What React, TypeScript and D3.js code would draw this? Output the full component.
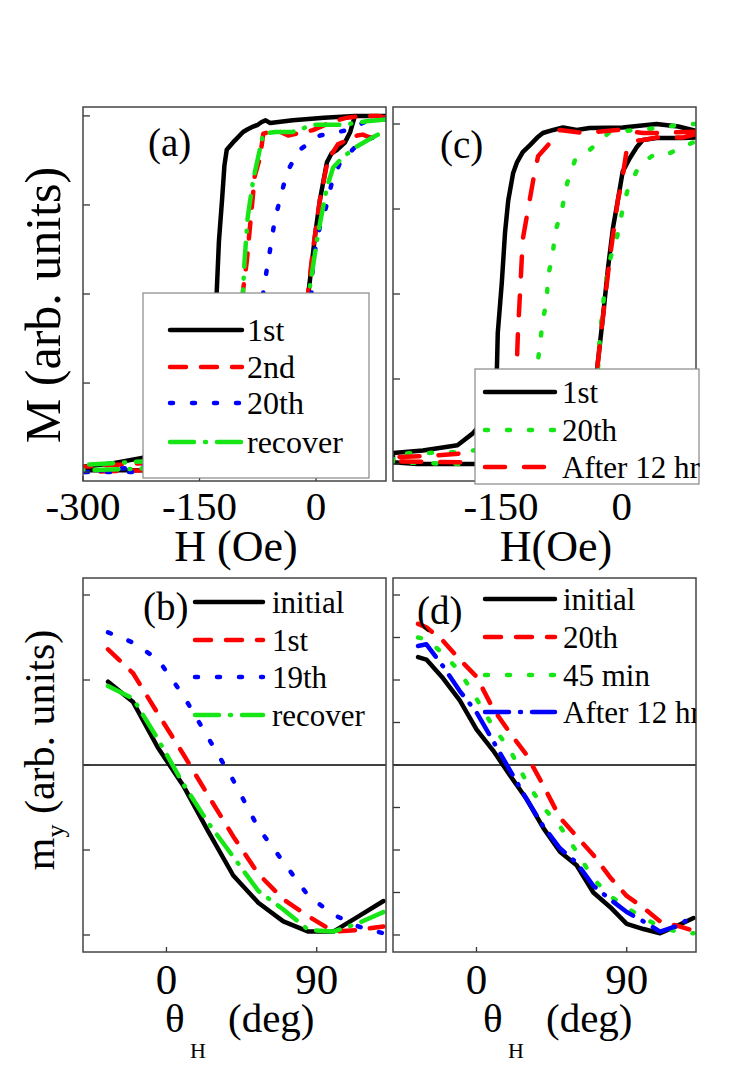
import * as React from 'react';
import * as d3 from 'd3';

// panel (a): hysteresis loops, H in Oe, M normalised (down branch, then up branch)
const aFirstH = [90, 50, 10, -30, -59, -65, -70, -75, -81, -88, -94, -105, -115, -118, -121, -125, -128, -130, -132, -137, -150, -224, -261, -300,
    -300, -224, -150, -80, -30, -18, -13, -10, -1, 5, 14, 20, 27, 37, 44, 50, 90];
const aFirstM = [1.0, 1.0, 0.99, 0.975, 0.96, 0.975, 0.966, 0.95, 0.94, 0.925, 0.91, 0.86, 0.81, 0.72, 0.53, 0.3, 0.0, -0.4, -0.75, -0.88, -0.91, -0.92, -0.95, -0.97,
    -0.99, -0.99, -0.97, -0.94, -0.88, -0.75, -0.4, 0.0, 0.34, 0.53, 0.74, 0.79, 0.81, 0.85, 0.91, 1.0, 1.0];
const aSecondH = [90, 80, 60, 40, 22, -4, -36, -46, -60, -68, -72, -79, -85, -89, -94, -97, -100, -108, -150, -224, -300,
    -300, -224, -150, -80, -30, -18, -13, -10, -4, 5, 15, 28, 53, 60, 69, 82, 90];
const aSecondM = [0.99, 1.0, 1.0, 0.99, 0.97, 0.92, 0.89, 0.91, 0.91, 0.9, 0.77, 0.66, 0.38, 0.19, 0.02, -0.4, -0.75, -0.88, -0.93, -0.95, -0.97,
    -1.0, -0.99, -0.97, -0.94, -0.88, -0.7, -0.3, 0.02, 0.25, 0.53, 0.75, 0.84, 0.89, 0.895, 0.88, 0.87, 0.86];
const aTwentiethH = [90, 65, 40, 5, -21, -37, -46, -53, -58, -63, -68, -72, -76, -85, -150, -224, -300,
    -300, -224, -150, -60, -20, -12, -8, -4, 5, 11, 20, 31, 56, 86, 90];
const aTwentiethM = [0.98, 0.97, 0.92, 0.89, 0.81, 0.69, 0.54, 0.42, 0.28, 0.15, 0.01, -0.4, -0.75, -0.88, -0.94, -0.97, -1.0,
    -1.0, -1.0, -0.98, -0.95, -0.88, -0.6, -0.2, 0.19, 0.38, 0.455, 0.62, 0.74, 0.85, 0.9, 0.9];
const aRecoverH = [90, 65, 35, -4, -30, -53, -68, -81, -88, -92, -94, -97, -100, -108, -150, -224, -300,
    -300, -224, -150, -80, -30, -17, -12, -8, 2.5, 14, 22, 35, 53, 73, 86, 90];
const aRecoverM = [0.98, 0.97, 0.95, 0.95, 0.91, 0.91, 0.9, 0.64, 0.43, 0.19, 0.02, -0.4, -0.75, -0.88, -0.92, -0.94, -0.96,
    -0.99, -0.98, -0.96, -0.93, -0.87, -0.6, -0.2, 0.04, 0.34, 0.6, 0.71, 0.77, 0.83, 0.88, 0.91, 0.92];

// panel (c)
const cFirstH = [92, 70, 43, 1, -40, -56, -73, -85, -98, -105, -114, -123, -130, -135, -141, -145, -149, -154, -155, -159, -167, -185, -204, -247, -284,
    -284, -254, -176, -77, -45, -35, -30, -23.5, -17, -11, -5, 1, 10, 18.6, 26, 43, 75, 92];
const cFirstM = [0.96, 0.985, 1.0, 0.98, 0.976, 0.965, 0.98, 0.965, 0.947, 0.92, 0.876, 0.835, 0.776, 0.71, 0.55, 0.36, 0.065, -0.23, -0.43, -0.6, -0.72, -0.82, -0.89, -0.92, -0.935,
    -0.99, -1.0, -1.0, -0.99, -0.96, -0.8, -0.41, -0.135, 0.16, 0.39, 0.55, 0.72, 0.8, 0.865, 0.906, 0.918, 0.918, 0.92];
const cTwentiethH = [92, 78, 51, 18.6, -15, -40, -58, -68, -74, -83, -86, -92, -93, -98, -102, -105, -110, -120, -150, -200, -284,
    -284, -200, -100, -45, -33, -27, -21, -15, -6, 0, 7, 19, 31, 43, 60, 76, 92];
const cTwentiethM = [1.0, 1.0, 0.98, 0.965, 0.953, 0.847, 0.79, 0.65, 0.506, 0.36, 0.22, 0.1, -0.035, -0.15, -0.31, -0.43, -0.65, -0.8, -0.9, -0.93, -0.94,
    -0.99, -1.0, -0.98, -0.95, -0.7, -0.23, 0.04, 0.2, 0.335, 0.476, 0.61, 0.73, 0.79, 0.83, 0.83, 0.865, 0.9];
const cAfterH = [92, 43, 26, -6, -48, -77, -85, -89, -104, -110, -116, -123, -126, -129, -131, -137, -150, -180, -230, -284,
    -284, -200, -100, -50, -35, -30, -23.5, -15, -5, 1, 6, 15, 26, 43, 75, 92];
const cAfterM = [0.955, 0.947, 0.947, 0.965, 0.947, 0.965, 0.935, 0.89, 0.81, 0.67, 0.51, 0.32, 0.04, -0.23, -0.5, -0.75, -0.88, -0.93, -0.95, -0.96,
    -0.985, -0.99, -0.98, -0.95, -0.8, -0.41, -0.135, 0.21, 0.55, 0.69, 0.85, 0.9, 0.906, 0.92, 0.92, 0.94];

// panel (b): m_y vs field angle
const bTheta = [-35, -20, -5, 10, 25, 40, 55, 70, 85, 100, 115, 130];
const bInitial = [0.49, 0.37, 0.1, -0.12, -0.39, -0.65, -0.81, -0.92, -0.98, -0.98, -0.89, -0.8];
const bFirst = [0.68, 0.54, 0.3, 0.065, -0.18, -0.42, -0.64, -0.79, -0.89, -0.98, -0.97, -0.95];
const bNineteenth = [0.78, 0.72, 0.62, 0.41, 0.16, -0.09, -0.37, -0.57, -0.77, -0.88, -0.95, -0.99];
const bRecover = [0.465, 0.39, 0.15, -0.11, -0.34, -0.54, -0.74, -0.85, -0.97, -0.98, -0.93, -0.865];

// panel (d)
const dTheta = [-35, -30, -20, -10, 0, 10, 20, 30, 40, 50, 60, 70, 80, 90, 100, 110, 120, 130];
const dInitial = [0.635, 0.62, 0.51, 0.38, 0.21, 0.085, -0.06, -0.2, -0.37, -0.51, -0.59, -0.75, -0.835, -0.935, -0.965, -0.99, -0.947, -0.9];
const dTwentieth = [0.83, 0.81, 0.73, 0.62, 0.52, 0.33, 0.19, 0.06, -0.12, -0.31, -0.42, -0.53, -0.66, -0.77, -0.84, -0.92, -0.945, -0.975];
const dMin45 = [0.75, 0.74, 0.655, 0.55, 0.39, 0.225, 0.09, -0.1, -0.25, -0.36, -0.51, -0.67, -0.77, -0.84, -0.9, -0.95, -0.98, -0.99];
const dAfter = [0.7, 0.71, 0.58, 0.435, 0.31, 0.14, -0.03, -0.2, -0.36, -0.49, -0.575, -0.71, -0.79, -0.865, -0.92, -0.98, -0.947, -0.89];

const hTicksA = [-300, -150, 0];
const hTicksC = [-150, 0];
const thetaTicks = [0, 90];
const mTicks = [-1, -0.5, 0, 0.5, 1];
const myTicksD = [-1, -0.75, -0.5, -0.25, 0, 0.25, 0.5, 0.75, 1];

const FONT = "'Liberation Serif', 'Times New Roman', 'Nimbus Roman', 'DejaVu Serif', serif";
const RED = '#ff0000';
const BLUE = '#0000ff';
const GREEN = '#16e616';

// line looks
const SOLID = { color: '#000', dash: null as string | null };
const DASH_RED = { color: RED, dash: '16,15' };
const DOT_BLUE = { color: BLUE, dash: '3,19' };
const DASHDOT_GREEN = { color: GREEN, dash: '24,11,1,11' };
const DOT_GREEN = { color: GREEN, dash: '3,19' };
const DASH_RED_LONG = { color: RED, dash: '20,19' };
const DASHDOT_BLUE = { color: BLUE, dash: '24,11,1,11' };

interface Series { name: string; xs: number[]; ys: number[]; look: { color: string; dash: string | null } }
interface Frame { x0: number; x1: number; y0: number; y1: number }
interface LegendCfg {
    box?: { x0: number; y0: number; x1: number; y1: number };
    lx0: number; lx1: number; tx: number; ys: number[]; size: number; clip?: boolean;
}

function Panel(props: {
    id: string; frame: Frame; xDomain: [number, number]; yDomain: [number, number];
    xTicks: number[]; yTicks: number[]; series: Series[]; zero?: boolean;
    tag: string; tagX: number; tagY: number; legend: LegendCfg;
    tickFont: number; tickY: number;
}) {
    const { frame, series, legend } = props;
    const x = d3.scaleLinear().domain(props.xDomain).range([frame.x0, frame.x1]);
    const y = d3.scaleLinear().domain(props.yDomain).range([frame.y1, frame.y0]);
    const line = d3.line<[number, number]>().x(d => x(d[0])).y(d => y(d[1]));
    const clipId = 'clip-' + props.id;
    const w = frame.x1 - frame.x0;
    const h = frame.y1 - frame.y0;
    return (
        <g>
            <defs>
                <clipPath id={clipId}>
                    <rect x={frame.x0} y={frame.y0} width={w} height={h} />
                </clipPath>
            </defs>
            {props.zero && (
                <line x1={frame.x0} x2={frame.x1} y1={y(0)} y2={y(0)} stroke="#000" strokeWidth={1.5} />
            )}
            <g clipPath={'url(#' + clipId + ')'}>
                {series.map(s => (
                    <path key={s.name}
                        d={line(s.xs.map((v, i) => [v, s.ys[i]] as [number, number])) || ''}
                        fill="none" stroke={s.look.color} strokeWidth={4.5}
                        strokeDasharray={s.look.dash || undefined}
                        strokeLinecap="round" strokeLinejoin="round" />
                ))}
            </g>
            {/* ticks, pointing inward */}
            {props.yTicks.map(t => (
                <line key={'yt' + t} x1={frame.x0} x2={frame.x0 + 7} y1={y(t)} y2={y(t)} stroke="#333" strokeWidth={1.3} />
            ))}
            {props.xTicks.map(t => (
                <line key={'xt' + t} x1={x(t)} x2={x(t)} y1={frame.y1} y2={frame.y1 - 5} stroke="#333" strokeWidth={1.3} />
            ))}
            <rect x={frame.x0} y={frame.y0} width={w} height={h} fill="none" stroke="#444" strokeWidth={1.5} />
            {props.xTicks.map(t => (
                <text key={'xl' + t} x={x(t)} y={props.tickY} textAnchor="middle"
                    style={{ fontFamily: FONT }} fontSize={props.tickFont}>{t}</text>
            ))}
            <text x={props.tagX} y={props.tagY} style={{ fontFamily: FONT }} fontSize={39}>{props.tag}</text>
            <g clipPath={legend.clip ? 'url(#' + clipId + ')' : undefined}>
                {legend.box && (
                    <rect x={legend.box.x0} y={legend.box.y0} width={legend.box.x1 - legend.box.x0}
                        height={legend.box.y1 - legend.box.y0} fill="#fff" stroke="#888" strokeWidth={1.2} />
                )}
                {series.map((s, i) => (
                    <g key={'lg' + s.name}>
                        <line x1={legend.lx0} x2={legend.lx1} y1={legend.ys[i]} y2={legend.ys[i]}
                            stroke={s.look.color} strokeWidth={4.5} strokeDasharray={s.look.dash || undefined}
                            strokeLinecap="round" />
                        <text x={legend.tx} y={legend.ys[i] + 11} style={{ fontFamily: FONT }} fontSize={legend.size}>{s.name}</text>
                    </g>
                ))}
            </g>
        </g>
    );
}

export default function App() {
    const seriesA: Series[] = [
        { name: '1st', xs: aFirstH, ys: aFirstM, look: SOLID },
        { name: '2nd', xs: aSecondH, ys: aSecondM, look: DASH_RED },
        { name: '20th', xs: aTwentiethH, ys: aTwentiethM, look: DOT_BLUE },
        { name: 'recover', xs: aRecoverH, ys: aRecoverM, look: DASHDOT_GREEN },
    ];
    const seriesC: Series[] = [
        { name: '1st', xs: cFirstH, ys: cFirstM, look: SOLID },
        { name: '20th', xs: cTwentiethH, ys: cTwentiethM, look: DOT_GREEN },
        { name: 'After 12 hr', xs: cAfterH, ys: cAfterM, look: DASH_RED_LONG },
    ];
    const seriesB: Series[] = [
        { name: 'initial', xs: bTheta, ys: bInitial, look: SOLID },
        { name: '1st', xs: bTheta, ys: bFirst, look: DASH_RED },
        { name: '19th', xs: bTheta, ys: bNineteenth, look: DOT_BLUE },
        { name: 'recover', xs: bTheta, ys: bRecover, look: DASHDOT_GREEN },
    ];
    const seriesD: Series[] = [
        { name: 'initial', xs: dTheta, ys: dInitial, look: SOLID },
        { name: '20th', xs: dTheta, ys: dTwentieth, look: DASH_RED },
        { name: '45 min', xs: dTheta, ys: dMin45, look: DOT_GREEN },
        { name: 'After 12 hr', xs: dTheta, ys: dAfter, look: DASHDOT_BLUE },
    ];

    return (
        <svg width={756} height={1070} style={{ position: 'absolute', left: 0, top: 0, background: '#fff' }}>
            <Panel id="a" frame={{ x0: 83, x1: 386, y0: 107, y1: 481 }} xDomain={[-300, 90]} yDomain={[-1.05, 1.05]}
                xTicks={hTicksA} yTicks={mTicks} series={seriesA} tag="(a)" tagX={148} tagY={156}
                tickFont={41} tickY={520}
                legend={{ box: { x0: 143, y0: 293, x1: 369, y1: 478 }, lx0: 170, lx1: 242, tx: 247, ys: [330, 367, 403, 442], size: 32 }} />
            <Panel id="c" frame={{ x0: 393, x1: 696, y0: 107, y1: 481 }} xDomain={[-284, 92]} yDomain={[-1.1, 1.1]}
                xTicks={hTicksC} yTicks={mTicks} series={seriesC} tag="(c)" tagX={440} tagY={158}
                tickFont={41} tickY={520}
                legend={{ box: { x0: 475, y0: 369, x1: 699, y1: 484 }, lx0: 485, lx1: 555, tx: 562, ys: [392, 430, 467], size: 31 }} />
            <Panel id="b" frame={{ x0: 83, x1: 386, y0: 578, y1: 952 }} xDomain={[-50, 131.5]} yDomain={[-1.1, 1.1]}
                xTicks={thetaTicks} yTicks={mTicks} series={seriesB} zero tag="(b)" tagX={143} tagY={620}
                tickFont={43} tickY={994}
                legend={{ lx0: 195, lx1: 263, tx: 272, ys: [602, 640, 677, 715], size: 31 }} />
            <Panel id="d" frame={{ x0: 393, x1: 696, y0: 578, y1: 952 }} xDomain={[-50, 131.5]} yDomain={[-1.1, 1.1]}
                xTicks={thetaTicks} yTicks={myTicksD} series={seriesD} zero tag="(d)" tagX={417} tagY={624}
                tickFont={43} tickY={994}
                legend={{ lx0: 485, lx1: 555, tx: 563, ys: [599, 637, 675, 712], size: 31, clip: true }} />

            {/* axis titles */}
            <text transform="translate(60,305) rotate(-90)" textAnchor="middle" style={{ fontFamily: FONT }} fontSize={50}>M (arb. units)</text>
            <text transform="translate(54,750) rotate(-90)" textAnchor="middle" style={{ fontFamily: FONT }} fontSize={42}>
                m<tspan fontSize={26} dy={10}>y</tspan><tspan dy={-10}> (arb. units)</tspan>
            </text>
            <text x={236} y={561} textAnchor="middle" style={{ fontFamily: FONT }} fontSize={44}>H (Oe)</text>
            <text x={556} y={561} textAnchor="middle" style={{ fontFamily: FONT }} fontSize={44}>H(Oe)</text>
            {[0, 318].map(dx => (
                <g key={'th' + dx} style={{ fontFamily: FONT }}>
                    <text x={165 + dx} y={1032} fontSize={41}>θ</text>
                    <text x={190 + dx} y={1058} fontSize={22}>H</text>
                    <text x={228 + dx} y={1032} fontSize={41}>(deg)</text>
                </g>
            ))}
        </svg>
    );
}
